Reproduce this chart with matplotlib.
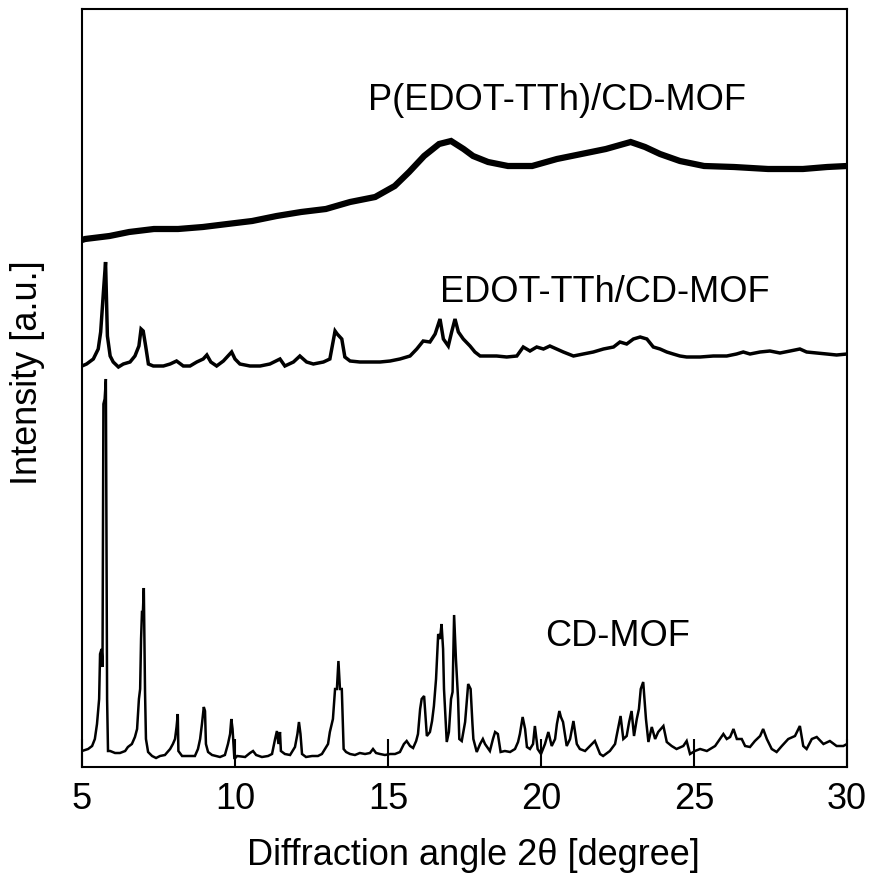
import matplotlib
matplotlib.use("Agg")
import matplotlib.pyplot as plt

plt.rcParams['font.family'] = ['Liberation Sans', 'DejaVu Sans']

# ---------------- data (2θ in degree, intensity in a.u.) ----------------
cd_mof_2theta = [
    5.00, 5.20, 5.33, 5.42, 5.49, 5.56, 5.59, 5.64, 5.67, 5.70, 5.74, 5.78, 5.82, 5.85,
    5.92, 6.08, 6.24, 6.41, 6.50, 6.63, 6.73, 6.80, 6.86, 6.90, 6.93, 6.96, 6.99, 7.02,
    7.04, 7.06, 7.09, 7.16, 7.29, 7.42, 7.55, 7.71, 7.88, 7.97, 8.04, 8.09, 8.13, 8.15,
    8.27, 8.53, 8.69, 8.79, 8.86, 8.92, 8.98, 9.02, 9.05, 9.12, 9.25, 9.51, 9.67, 9.77,
    9.84, 9.88, 9.92, 9.95, 9.98, 10.07, 10.33, 10.49, 10.59, 10.69, 10.88, 11.08, 11.21,
    11.31, 11.37, 11.42, 11.47, 11.50, 11.63, 11.80, 11.96, 12.04, 12.09, 12.14, 12.19,
    12.32, 12.52, 12.71, 12.84, 12.94, 13.04, 13.10, 13.20, 13.27, 13.33, 13.38, 13.43,
    13.49, 13.55, 13.63, 13.76, 13.92, 14.08, 14.25, 14.41, 14.51, 14.61, 14.74, 14.90,
    15.07, 15.23, 15.39, 15.52, 15.61, 15.72, 15.82, 15.92, 15.98, 16.05, 16.10, 16.18,
    16.23, 16.27, 16.37, 16.44, 16.50, 16.57, 16.64, 16.70, 16.75, 16.80, 16.83, 16.92,
    16.99, 17.06, 17.11, 17.16, 17.22, 17.29, 17.33, 17.41, 17.52, 17.62, 17.70, 17.76,
    17.79, 17.90, 18.01, 18.10, 18.17, 18.33, 18.43, 18.50, 18.59, 18.68, 18.82, 18.99,
    19.15, 19.25, 19.31, 19.40, 19.48, 19.54, 19.64, 19.74, 19.80, 19.89, 20.00, 20.13,
    20.24, 20.35, 20.46, 20.52, 20.60, 20.65, 20.72, 20.84, 20.95, 21.06, 21.17, 21.27,
    21.44, 21.60, 21.76, 21.93, 22.03, 22.25, 22.42, 22.47, 22.60, 22.69, 22.80, 22.88,
    22.96, 23.04, 23.13, 23.20, 23.26, 23.34, 23.43, 23.51, 23.62, 23.73, 23.83, 24.00,
    24.11, 24.27, 24.43, 24.65, 24.76, 24.87, 25.03, 25.20, 25.42, 25.69, 25.85, 25.96,
    26.07, 26.18, 26.29, 26.40, 26.56, 26.67, 26.83, 26.99, 27.16, 27.26, 27.38, 27.54,
    27.70, 27.87, 28.08, 28.30, 28.46, 28.57, 28.68, 28.85, 29.01, 29.23, 29.44, 29.66,
    29.88, 30.00,
]
cd_mof_intensity = [
    16, 18, 21, 28, 43, 68, 113, 118, 100, 363, 368, 388, 68, 16,
    16, 14, 14, 16, 20, 23, 30, 38, 68, 78, 128, 155, 155, 179,
    128, 75, 28, 15, 11, 9, 11, 12, 18, 23, 28, 40, 53, 16,
    11, 11, 11, 18, 28, 43, 60, 56, 23, 15, 12, 10, 12, 23,
    33, 48, 38, 23, 8, 11, 10, 14, 16, 12, 10, 11, 13,
    28, 36, 23, 35, 16, 13, 12, 20, 33, 45, 33, 13,
    10, 11, 11, 13, 18, 23, 35, 48, 78, 78, 106, 78,
    78, 18, 15, 13, 12, 14, 13, 14, 18, 14, 13, 12,
    13, 13, 15, 23, 26, 21, 19, 26, 33, 58, 68, 71,
    48, 31, 35, 46, 61, 88, 133, 128, 143, 118, 78, 25,
    35, 68, 75, 152, 108, 68, 28, 26, 45, 83, 78, 43,
    28, 15, 23, 28, 23, 16, 28, 35, 33, 15, 16, 15,
    18, 25, 33, 50, 38, 20, 18, 23, 41, 18, 13, 23,
    35, 21, 28, 43, 56, 50, 45, 21, 28, 46, 23, 18,
    16, 21, 26, 13, 11, 16, 23, 31, 51, 28, 31, 45,
    56, 31, 48, 58, 78, 85, 48, 25, 40, 28, 35, 41,
    25, 21, 18, 21, 26, 13, 16, 18, 16, 21, 28, 33,
    28, 30, 38, 28, 28, 21, 20, 26, 31, 38, 28, 18,
    15, 21, 28, 31, 41, 21, 18, 28, 30, 23, 26, 21,
    21, 23,
]

edot_2theta = [
    5.00, 5.15, 5.37, 5.53, 5.61, 5.70, 5.77, 5.83, 5.92, 6.02, 6.19, 6.35, 6.57, 6.73,
    6.86, 6.93, 7.00, 7.08, 7.17, 7.33, 7.66, 7.88, 8.09, 8.31, 8.53, 8.75, 8.96, 9.08,
    9.21, 9.40, 9.62, 9.89, 10.00, 10.16, 10.49, 10.82, 11.14, 11.47, 11.63, 11.91, 12.12,
    12.34, 12.56, 12.89, 13.10, 13.27, 13.34, 13.49, 13.59, 13.76, 14.08, 14.41, 14.74,
    15.07, 15.39, 15.72, 15.94, 16.15, 16.37, 16.54, 16.70, 16.81, 16.97, 17.08, 17.19,
    17.30, 17.46, 17.68, 17.84, 18.01, 18.23, 18.55, 18.88, 19.21, 19.42, 19.64, 19.86,
    20.08, 20.29, 20.51, 20.73, 21.06, 21.38, 21.71, 22.04, 22.37, 22.58, 22.80, 23.02,
    23.24, 23.46, 23.67, 23.89, 24.11, 24.32, 24.54, 24.76, 25.20, 25.63, 26.07, 26.39,
    26.61, 26.83, 27.16, 27.48, 27.81, 28.14, 28.46, 28.68, 29.01, 29.34, 29.66, 30.00,
]
edot_intensity = [
    3, 5, 10, 20, 37, 77, 107, 33, 13, 7, 2, 5, 7, 13,
    23, 40, 38, 23, 5, 3, 3, 5, 8, 3, 3, 7, 10, 14,
    7, 3, 8, 17, 10, 5, 3, 3, 5, 10, 3, 7, 13,
    7, 5, 7, 10, 38, 35, 30, 12, 8, 7, 7, 7,
    8, 10, 13, 20, 28, 27, 35, 50, 30, 23, 37, 50,
    37, 30, 23, 17, 13, 13, 13, 12, 13, 22, 18, 22,
    20, 23, 20, 17, 13, 15, 17, 20, 22, 27, 25, 30,
    32, 30, 22, 20, 17, 15, 13, 12, 12, 13, 13, 15,
    17, 15, 17, 18, 16, 18, 20, 17, 16, 15, 14, 15,
]

poly_2theta = [
    5.00, 5.10, 5.90, 6.54, 7.35, 8.14, 8.95, 9.75, 10.56, 11.36, 12.16, 12.97, 13.76,
    14.58, 15.22, 15.69, 16.18, 16.67, 17.06, 17.47, 17.78, 18.27, 18.92, 19.71, 20.52,
    21.32, 22.12, 22.93, 23.40, 23.89, 24.54, 25.33, 26.31, 27.42, 28.56, 29.35, 30.00,
]
poly_intensity = [
    4, 5, 8, 12, 15, 15, 17, 20, 23, 28, 32, 35, 42,
    47, 58, 72, 88, 100, 103, 95, 88, 82, 78, 78, 85,
    90, 95, 102, 97, 90, 83, 78, 77, 75, 75, 77, 78,
]

series_labels = ["CD-MOF", "EDOT-TTh/CD-MOF", "P(EDOT-TTh)/CD-MOF"]
series_offsets = [0, 398, 523]
label_pos = [(22.5, 131), (22.09, 476), (20.52, 668)]
x_ticks = [5, 10, 15, 20, 25, 30]

# ---------------- figure ----------------
fig = plt.figure(figsize=(8.71, 8.79), dpi=100)
ax = fig.add_axes([82 / 871, 1 - 768 / 879, 765 / 871, 758 / 879])

xs = [cd_mof_2theta, edot_2theta, poly_2theta]
ys = [cd_mof_intensity, edot_intensity, poly_intensity]
lws = [1.8, 2.5, 4.5]
for x, y, off, lw in zip(xs, ys, series_offsets, lws):
    ax.plot(x, [v + off for v in y], color="black", lw=lw, solid_joinstyle="miter")

for lab, (lx, ly) in zip(series_labels, label_pos):
    ax.text(lx, ly, lab, fontsize=26, ha="center", va="center")

ax.set_xlim(5, 30)
ax.set_ylim(0, 758)
ax.set_xticks(x_ticks)
ax.set_xticklabels([str(t) for t in x_ticks])
ax.set_yticks([])
ax.tick_params(axis="x", direction="in", length=20, width=1.5, labelsize=26, pad=10)
for s in ax.spines.values():
    s.set_linewidth(1.5)

ax.set_xlabel("Diffraction angle 2θ [degree]", fontsize=26)
ax.xaxis.set_label_coords(0.512, -0.092)
ax.set_ylabel("Intensity [a.u.]", fontsize=26)
ax.yaxis.set_label_coords(-0.048, 0.522)

fig.savefig("out.png", dpi=100)
